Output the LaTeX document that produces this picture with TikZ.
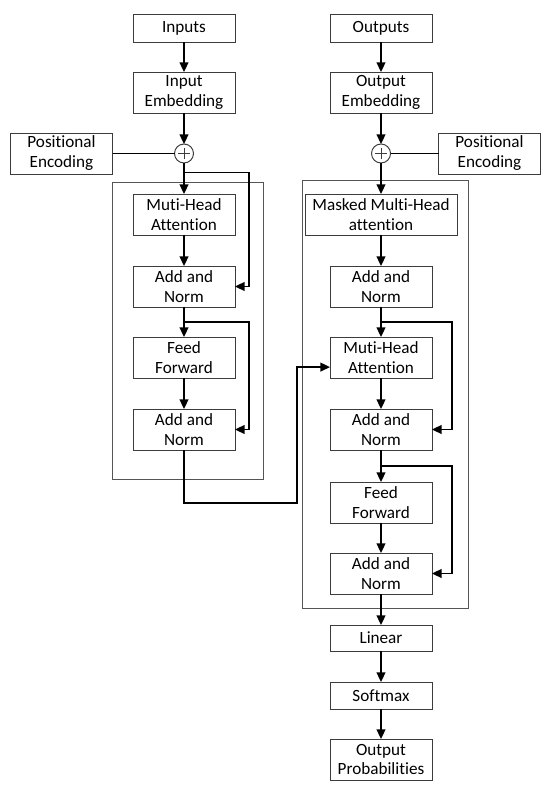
\documentclass[tikz,border=0pt]{standalone}
\usepackage{fontspec}
\setmainfont{Carlito}[Ligatures={NoCommon}]
\usepackage{tikz}
\usetikzlibrary{arrows.meta,positioning,calc}
\definecolor{boxline}{RGB}{60,60,60}
\definecolor{frameline}{RGB}{85,85,85}

\begin{document}
\begin{tikzpicture}[
    node distance=0.775cm,
    box/.style={rectangle, draw=boxline, line width=0.7pt, outer sep=0pt, minimum width=2.55cm, minimum height=1.025cm, align=center, inner sep=1pt, font=\fontsize{12.2}{14.2}\selectfont},
    smallbox/.style={box, minimum height=0.7cm},
    sumnode/.style={circle, draw=boxline, line width=0.7pt, outer sep=0pt, minimum size=0.475cm, inner sep=0pt,
        path picture={
            \draw[line width=0.7pt] ([xshift=-0.14cm]path picture bounding box.center) -- ([xshift=0.14cm]path picture bounding box.center);
            \draw[line width=0.7pt] ([yshift=-0.14cm]path picture bounding box.center) -- ([yshift=0.14cm]path picture bounding box.center);
        }},
    arrow/.style={-{Triangle[length=0.24cm,width=0.22cm]}, line width=1.1pt},
    link/.style={line width=1.1pt},
    frame/.style={draw=frameline, line width=0.7pt},
]
\useasboundingbox (0,0) rectangle (13.75,-19.725);

% === ENCODER ===
\node[smallbox] (inputs) at (4.6,-0.7) {Inputs};
\node[box, below=0.75cm of inputs] (inemb) {Input\\Embedding};
\node[sumnode, below=0.775cm of inemb] (addL) {};
\node[box, left=1.55cm of addL] (peL) {Positional\\Encoding};
\node[box, below=0.775cm of addL] (mhaL) {Muti-Head\\Attention};
\node[box, below=of mhaL] (anL1) {Add and\\Norm};
\node[box, below=0.75cm of anL1] (ffL) {Feed\\Forward};
\node[box, below=of ffL] (anL2) {Add and\\Norm};

% === DECODER ===
\node[smallbox] (outputs) at (9.525,-0.7) {Outputs};
\node[box, below=0.75cm of outputs] (outemb) {Output\\Embedding};
\node[sumnode, below=0.775cm of outemb] (addR) {};
\node[box, right=1.2cm of addR] (peR) {Positional\\Encoding};
\node[box, minimum width=3.8cm, below=0.775cm of addR] (masked) {Masked Multi-Head\\attention};
\node[box, below=of masked] (anR1) {Add and\\Norm};
\node[box, below=0.75cm of anR1] (mhaR) {Muti-Head\\Attention};
\node[box, below=of mhaR] (anR2) {Add and\\Norm};
\node[box, below=0.8cm of anR2] (ffR) {Feed\\Forward};
\node[box, below=0.75cm of ffR] (anR3) {Add and\\Norm};

% === OUTPUT HEAD ===
\node[box, minimum height=0.65cm, below=of anR3] (linear) {Linear};
\node[box, minimum height=0.675cm, below=of linear] (softmax) {Softmax};
\node[box, below=0.75cm of softmax] (outprob) {Output\\Probabilities};

% === FRAMES ===
\draw[frame] ($(mhaL.north west)+(-0.525,0.3)$) rectangle ($(anL2.south east)+(0.7,-0.725)$);
\draw[frame] ($(masked.north west)+(-0.075,0.35)$) rectangle ($(anR3.south east)+(0.9,-0.35)$);

% === ARROWS ===
\draw[arrow] (inputs) -- (inemb);
\draw[arrow] (inemb) -- (addL);
\draw[link] (peL) -- (addL);
\draw[arrow] (addL) -- (mhaL);
\draw[arrow] (mhaL) -- (anL1);
\draw[arrow] (anL1) -- (ffL);
\draw[arrow] (ffL) -- (anL2);

\draw[arrow] (outputs) -- (outemb);
\draw[arrow] (outemb) -- (addR);
\draw[link] (peR) -- (addR);
\draw[arrow] (addR) -- (masked);
\draw[arrow] (masked) -- (anR1);
\draw[arrow] (anR1) -- (mhaR);
\draw[arrow] (mhaR) -- (anR2);
\draw[arrow] (anR2) -- (ffR);
\draw[arrow] (ffR) -- (anR3);
\draw[arrow] (anR3) -- (linear);
\draw[arrow] (linear) -- (softmax);
\draw[arrow] (softmax) -- (outprob);

% === RESIDUALS ===
\coordinate (resL1) at ($(addL.south)!0.3!(mhaL.north)$);
\coordinate (resL2) at ($(anL1.south)!0.5!(ffL.north)$);
\coordinate (resR1) at ($(anR1.south)!0.5!(mhaR.north)$);
\coordinate (resR2) at ($(anR2.south)!0.5!(ffR.north)$);
\draw[arrow] (resL1) -| ([xshift=0.35cm]anL1.east) -- (anL1.east);
\draw[arrow] (resL2) -| ([xshift=0.35cm]anL2.east) -- (anL2.east);
\draw[arrow] (resR1) -| ([xshift=0.5cm]anR2.east) -- (anR2.east);
\draw[arrow] (resR2) -| ([xshift=0.5cm]anR3.east) -- (anR3.east);

% === ENCODER TO DECODER ===
\coordinate (bend) at ($(anL2.south)+(0,-1.325)$);
\draw[arrow] (anL2.south) -- (bend) -| ([xshift=-0.825cm,yshift=-0.24cm]mhaR.west) -- ([yshift=-0.24cm]mhaR.west);

\end{tikzpicture}
\end{document}
